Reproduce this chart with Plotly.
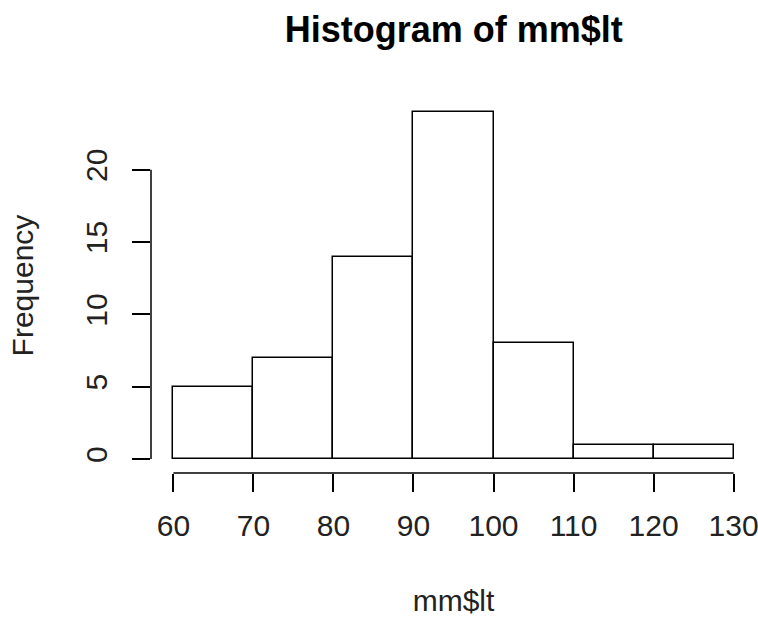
import plotly.graph_objects as go

bin_edges = [60, 70, 80, 90, 100, 110, 120, 130]
counts = [5, 7, 14, 24, 8, 1, 1]
x_ticks = [60, 70, 80, 90, 100, 110, 120, 130]
y_ticks = [0, 5, 10, 15, 20]

mids = [(a + b) / 2 for a, b in zip(bin_edges[:-1], bin_edges[1:])]
widths = [b - a for a, b in zip(bin_edges[:-1], bin_edges[1:])]

FONT = "Liberation Sans, Arial, sans-serif"

fig = go.Figure()
fig.add_trace(go.Bar(
    x=mids, y=counts, width=widths,
    marker=dict(color="white", line=dict(color="black", width=1.5)),
    showlegend=False, hoverinfo="x+y",
))

xr = [bin_edges[0] - 0.04 * (bin_edges[-1] - bin_edges[0]), bin_edges[-1] + 0.04 * (bin_edges[-1] - bin_edges[0])]
ymax = max(counts)
yr = [-0.04 * ymax, ymax * 1.04]

fig.update_layout(
    width=758, height=617,
    margin=dict(l=151, r=2, t=98, b=144, autoexpand=False),
    paper_bgcolor="white", plot_bgcolor="white",
    font=dict(family=FONT, size=30, color="black"),
    title=dict(text="<b>Histogram of mm$lt</b>", x=0.5987, xanchor="center",
               y=0.953, yanchor="middle", font=dict(size=36, family=FONT, color="black")),
    bargap=0,
    xaxis=dict(range=xr, tickvals=x_ticks, ticktext=[str(v) for v in x_ticks],
               ticks="outside", ticklen=18, tickwidth=1.5, tickcolor="black",
               ticklabelstandoff=8, ticklabeloverflow="allow",
               showline=False, showgrid=False, zeroline=False,
               tickfont=dict(size=30, color="#222"),
               title=dict(text="mm$lt", font=dict(size=30, color="#222"), standoff=53)),
    yaxis=dict(range=yr, tickvals=y_ticks, ticktext=[str(v) for v in y_ticks],
               ticks="outside", ticklen=18, tickwidth=1.5, tickcolor="black",
               tickangle=-90, ticklabelstandoff=13, ticklabeloverflow="allow",
               showline=False, showgrid=False, zeroline=False,
               tickfont=dict(size=30, color="#222"),
               title=dict(text="Frequency", font=dict(size=30, color="#222"), standoff=37)),
)

# R-style detached axis lines spanning only the tick range
fig.add_shape(type="line", xref="x", yref="paper", x0=x_ticks[0], x1=x_ticks[-1], y0=0, y1=0,
              line=dict(color="black", width=1.5))
fig.add_shape(type="line", xref="paper", yref="y", x0=0, x1=0, y0=y_ticks[0], y1=y_ticks[-1],
              line=dict(color="black", width=1.5))

fig.write_html("out.html")
